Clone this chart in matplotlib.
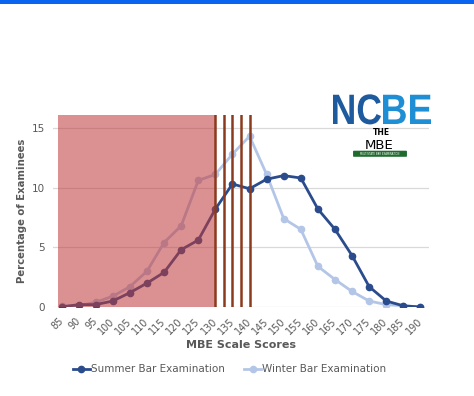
import matplotlib.pyplot as plt
from matplotlib.patches import Rectangle, FancyBboxPatch, PathPatch
from matplotlib.textpath import TextPath
from matplotlib.font_manager import FontProperties
from matplotlib.transforms import Affine2D

# scores on the x axis
scores = [85, 90, 95, 100, 105, 110, 115, 120, 125, 130, 135, 140,
          145, 150, 155, 160, 165, 170, 175, 180, 185, 190]
tick_labels = [str(s) for s in scores]

# percentage of examinees
summer = [0.0, 0.2, 0.2, 0.5, 1.2, 2.0, 2.9, 4.8, 5.6, 8.2, 10.3, 9.9,
          10.7, 11.0, 10.8, 8.2, 6.5, 4.3, 1.7, 0.5, 0.1, 0.0]
winter = [0.1, 0.1, 0.4, 0.9, 1.7, 3.0, 5.4, 6.8, 10.6, 11.1, 12.8, 14.3,
          11.1, 7.4, 6.5, 3.4, 2.3, 1.3, 0.5, 0.2, 0.1, 0.0]

# cut score markers and failing zone
cut_lines = [130, 132.5, 135, 137.5, 140]
shade_from, shade_to, shade_top = 84, 130, 16.1

grey = '#595959'
W, H = 474, 396

fig = plt.figure(figsize=(4.74, 3.96), dpi=100)
ax = fig.add_axes([0.0, 0.0, 1.0, 1.0])
ax.set_position([53 / W, 1 - 307 / H, 376 / W, (307 - 114.7) / H])

ax.plot(scores, summer, color='#2B4C8C', lw=2.0, marker='o', ms=4.5,
        label='Summer Bar Examination', zorder=3)
ax.plot(scores, winter, color='#B4C6E7', lw=2.0, marker='o', ms=4.5,
        label='Winter Bar Examination', zorder=2)

for x in cut_lines:
    ax.plot([x, x], [0, shade_top], color='#8B3A1E', lw=1.8, zorder=5)
ax.add_patch(Rectangle((shade_from, 0), shade_to - shade_from, shade_top,
                       facecolor=(0.75, 0.22, 0.22), alpha=0.55, lw=0, zorder=4))

ax.set_xlim(82.5, 192.5)
ax.set_ylim(0, shade_top)
ax.set_yticks([0, 5, 10, 15])
ax.set_xticks(scores)
ax.set_xticklabels(tick_labels, rotation=45, ha='right', va='center',
                   rotation_mode='anchor', fontsize=7, color=grey)
ax.tick_params(axis='x', length=0, pad=9)
ax.tick_params(axis='y', length=0, pad=6, labelsize=7.5, labelcolor=grey)
ax.grid(axis='y', color='#D9D9D9', lw=0.9, zorder=0)
for s in ax.spines.values():
    s.set_visible(False)

ax.set_xlabel('MBE Scale Scores', fontsize=8, fontweight='bold', color=grey, labelpad=3)
ax.set_ylabel('Percentage of Examinees', fontsize=7.3, fontweight='bold', color=grey, labelpad=3)

ax.legend(loc='upper center', bbox_to_anchor=(0.47, -0.25), ncol=2, frameon=False,
          fontsize=7.5, labelcolor=grey, handlelength=1.6, handletextpad=0.1,
          columnspacing=1.9)

# blue band at the top of the image
fig.patches.append(Rectangle((0, 1 - 4 / H), 1, 4 / H, transform=fig.transFigure,
                             facecolor='#0A64F0', lw=0, zorder=10))

# logo, drawn in pixel units (condensed lettering)
def logo_word(txt, x0, x1, base, cap, color):
    fp = FontProperties(family='Liberation Sans', weight='bold')
    tp = TextPath((0, 0), txt, size=1, prop=fp)
    ext = tp.get_extents()
    sx = (x1 - x0) / ext.width
    sy = cap / 0.729
    tr = Affine2D().translate(-ext.x0, 0).scale(sx / W, sy / H).translate(x0 / W, 1 - base / H)
    fig.patches.append(PathPatch(tr.transform_path(tp), transform=fig.transFigure,
                                 facecolor=color, lw=0))

logo_word('NC', 333, 381, 124, 31, '#1D5A9E')
logo_word('BE', 383, 431, 124, 31, '#1E8FD4')
fig.text(381 / W, 1 - 135 / H, 'THE', fontsize=5.5, fontweight='bold',
         color='black', ha='center', va='baseline')
fig.text(379 / W, 1 - 149 / H, 'MBE', fontsize=9.5, color='black',
         ha='center', va='baseline')
fig.patches.append(FancyBboxPatch((354 / W, 1 - 156 / H), 52 / W, 4.5 / H,
                                  boxstyle='round,pad=0.002', transform=fig.transFigure,
                                  facecolor='#1F6B2E', lw=0))
fig.text(380 / W, 1 - 154 / H, 'MULTISTATE BAR EXAMINATION', fontsize=1.8,
         color='white', ha='center', va='center')

fig.savefig('out.png', dpi=100)
